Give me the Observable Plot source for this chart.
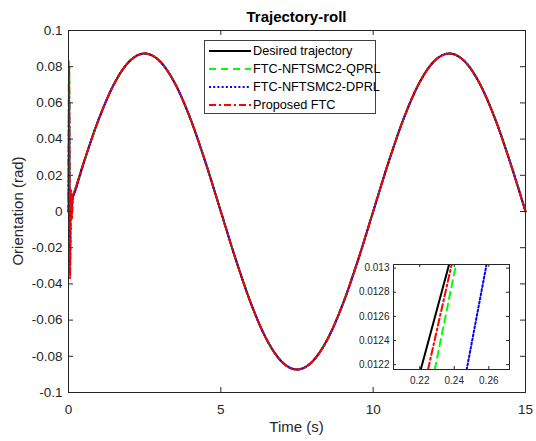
<!DOCTYPE html>
<html><head><meta charset="utf-8">
<script src="https://cdn.jsdelivr.net/npm/d3@7"></script>
<script src="https://cdn.jsdelivr.net/npm/@observablehq/plot@0.6"></script>
<style>
body{margin:0;background:#fff;}
#wrap{position:relative;width:536px;height:441px;font-family:"Liberation Sans",Arial,sans-serif;overflow:hidden;}
#wrap svg{position:absolute;left:0;top:0;}
.lbl{position:absolute;color:#262626;white-space:nowrap;line-height:1;}
#legend{position:absolute;left:204px;top:40px;width:172px;height:74px;border:1px solid #404040;background:#fff;box-sizing:border-box;}
#legend .row{position:absolute;left:0;height:18px;width:100%;}
#legend svg{position:absolute;left:3px;top:0;}
#legend span{position:absolute;left:48px;top:2px;font-size:12.7px;color:#000;white-space:nowrap;}
</style></head><body><div id="wrap"></div>
<script>
// ---- main data ----
const time = [0,0.5,1,1.5,2,2.5,3,3.5,4,4.5,5,5.5,6,6.5,7,7.5,8,8.5,9,9.5,10,10.5,11,11.5,12,12.5,13,13.5,14,14.5,15];
const desired = [0,0.0270,0.0513,0.0706,0.0830,0.0873,0.0830,0.0706,0.0513,0.0270,0,-0.0270,-0.0513,-0.0706,-0.0830,-0.0873,-0.0830,-0.0706,-0.0513,-0.0270,0,0.0270,0.0513,0.0706,0.0830,0.0873,0.0830,0.0706,0.0513,0.0270,0];
// initial transient (first 0.2 s) of the controllers
const startTime = [0,0.02,0.05,0.08,0.11,0.14,0.18];
const qprlStart = [0,0.083,-0.022,0.010,-0.002,0.009,0.0103];
const dprlStart = [0,0.062,-0.030,0.008,0.000,0.008,0.0095];
const propStart = [0,0.080,-0.037,0.012,-0.004,0.009,0.0105];
const yTicks = [-0.1,-0.08,-0.06,-0.04,-0.02,0,0.02,0.04,0.06,0.08,0.1];
const xTicks = [0,5,10,15];

// ---- inset data (zoom near t = 0.23 s) ----
const insetT = {desired:[0.2206,0.2370], qprl:[0.2287,0.2410], dprl:[0.2472,0.2587], prop:[0.2248,0.2385]};
const insetV = [0.01216,0.01303];
const insetXTicks = [0.22,0.24,0.26];
const insetYTicks = [0.0122,0.0124,0.0126,0.0128,0.013];

const names = ["Desired trajectory","FTC-NFTSMC2-QPRL","FTC-NFTSMC2-DPRL","Proposed FTC"];
const styles = [
  {stroke:"#000000", strokeWidth:2},
  {stroke:"#00ff00", strokeWidth:2, strokeDasharray:"7,5"},
  {stroke:"#0000ff", strokeWidth:2, strokeDasharray:"2,2.2"},
  {stroke:"#ff0000", strokeWidth:2, strokeDasharray:"7,3,2,3"}
];

function rows(ts, vs){ return ts.map((t,i)=>({t, v:vs[i]})); }
const later = time.slice(1), laterV = desired.slice(1);
const series = [
  rows(time, desired),
  rows(startTime.concat(later), qprlStart.concat(laterV)),
  rows(startTime.concat(later), dprlStart.concat(laterV)),
  rows(startTime.concat(later), propStart.concat(laterV))
];

const fmt = d => String(+d.toFixed(4));
const font = {fontFamily:'"Liberation Sans",Arial,sans-serif'};
const ax = "#262626";

// main frame geometry (margins)
const M = {l:68, r:11, t:30, b:49};
const FW = 536 - M.l - M.r, FH = 441 - M.t - M.b;
const TK = 5;

const main = Plot.plot({
  width:536, height:441,
  marginLeft:M.l, marginRight:M.r, marginTop:M.t, marginBottom:M.b,
  style:{background:"transparent", ...font, fontSize:"13.5px", color:ax},
  x:{domain:[0,15]},
  y:{domain:[-0.1,0.1]},
  marks:[
    ...series.map((s,i)=>Plot.line(s,{x:"t", y:"v", curve:"monotone-x", ...styles[i]})),
    Plot.ruleX(xTicks,{x:d=>d, insetTop:FH-TK, stroke:ax}),
    Plot.ruleX(xTicks,{x:d=>d, insetBottom:FH-TK, stroke:ax}),
    Plot.ruleY(yTicks,{y:d=>d, insetRight:FW-TK, stroke:ax}),
    Plot.ruleY(yTicks,{y:d=>d, insetLeft:FW-TK, stroke:ax}),
    Plot.frame({stroke:ax}),
    Plot.axisX(xTicks,{anchor:"bottom", tickSize:0, tickPadding:12, tickFormat:fmt, label:null}),
    Plot.axisY(yTicks,{anchor:"left", tickSize:0, tickPadding:6, tickFormat:fmt, label:null})
  ]
});

// inset frame geometry
const I = {l:393, r:27, t:264, b:72};
const IW = 536 - I.l - I.r, IH = 441 - I.t - I.b;
const ITK = 3;
const keys = ["desired","qprl","dprl","prop"];
const inset = Plot.plot({
  width:536, height:441,
  marginLeft:I.l, marginRight:I.r, marginTop:I.t, marginBottom:I.b,
  style:{background:"transparent", ...font, fontSize:"10px", color:ax},
  x:{domain:[0.2048,0.272]},
  y:{domain:[0.01216,0.01303]},
  marks:[
    Plot.frame({fill:"white"}),
    ...keys.map((k,i)=>Plot.line(rows(insetT[k], insetV),{x:"t", y:"v", clip:true, ...styles[i]})),
    Plot.ruleX(insetXTicks,{x:d=>d, insetTop:IH-ITK, stroke:ax}),
    Plot.ruleX(insetXTicks,{x:d=>d, insetBottom:IH-ITK, stroke:ax}),
    Plot.ruleY(insetYTicks,{y:d=>d, insetRight:IW-ITK, stroke:ax}),
    Plot.ruleY(insetYTicks,{y:d=>d, insetLeft:IW-ITK, stroke:ax}),
    Plot.frame({stroke:ax}),
    Plot.axisX(insetXTicks,{anchor:"bottom", tickSize:0, tickPadding:7, tickFormat:fmt, label:null}),
    Plot.axisY(insetYTicks,{anchor:"left", tickSize:0, tickPadding:4, tickFormat:fmt, label:null})
  ]
});

const wrap = document.getElementById("wrap");
wrap.appendChild(main);
wrap.appendChild(inset);

function label(text, css){ const d=document.createElement("div"); d.className="lbl"; d.textContent=text; Object.assign(d.style, css); wrap.appendChild(d); return d; }
label("Trajectory-roll",{left:"296.5px", top:"9px", transform:"translateX(-50%)", fontSize:"15px", fontWeight:"bold", color:"#000"});
label("Time (s)",{left:"296.5px", top:"419px", transform:"translateX(-50%)", fontSize:"15px"});
label("Orientation (rad)",{left:"17px", top:"211px", transform:"translate(-50%,-50%) rotate(-90deg)", fontSize:"15px"});

const leg = document.createElement("div"); leg.id="legend"; wrap.appendChild(leg);
names.forEach((n,i)=>{
  const r=document.createElement("div"); r.className="row"; r.style.top=(1+i*18)+"px";
  const s=styles[i];
  r.innerHTML=`<svg width="44" height="18"><line x1="1" x2="43" y1="9" y2="9" stroke="${s.stroke}" stroke-width="${s.strokeWidth}" ${s.strokeDasharray?`stroke-dasharray="${s.strokeDasharray}"`:""}/></svg><span></span>`;
  r.querySelector("span").textContent=n;
  leg.appendChild(r);
});
</script></body></html>
